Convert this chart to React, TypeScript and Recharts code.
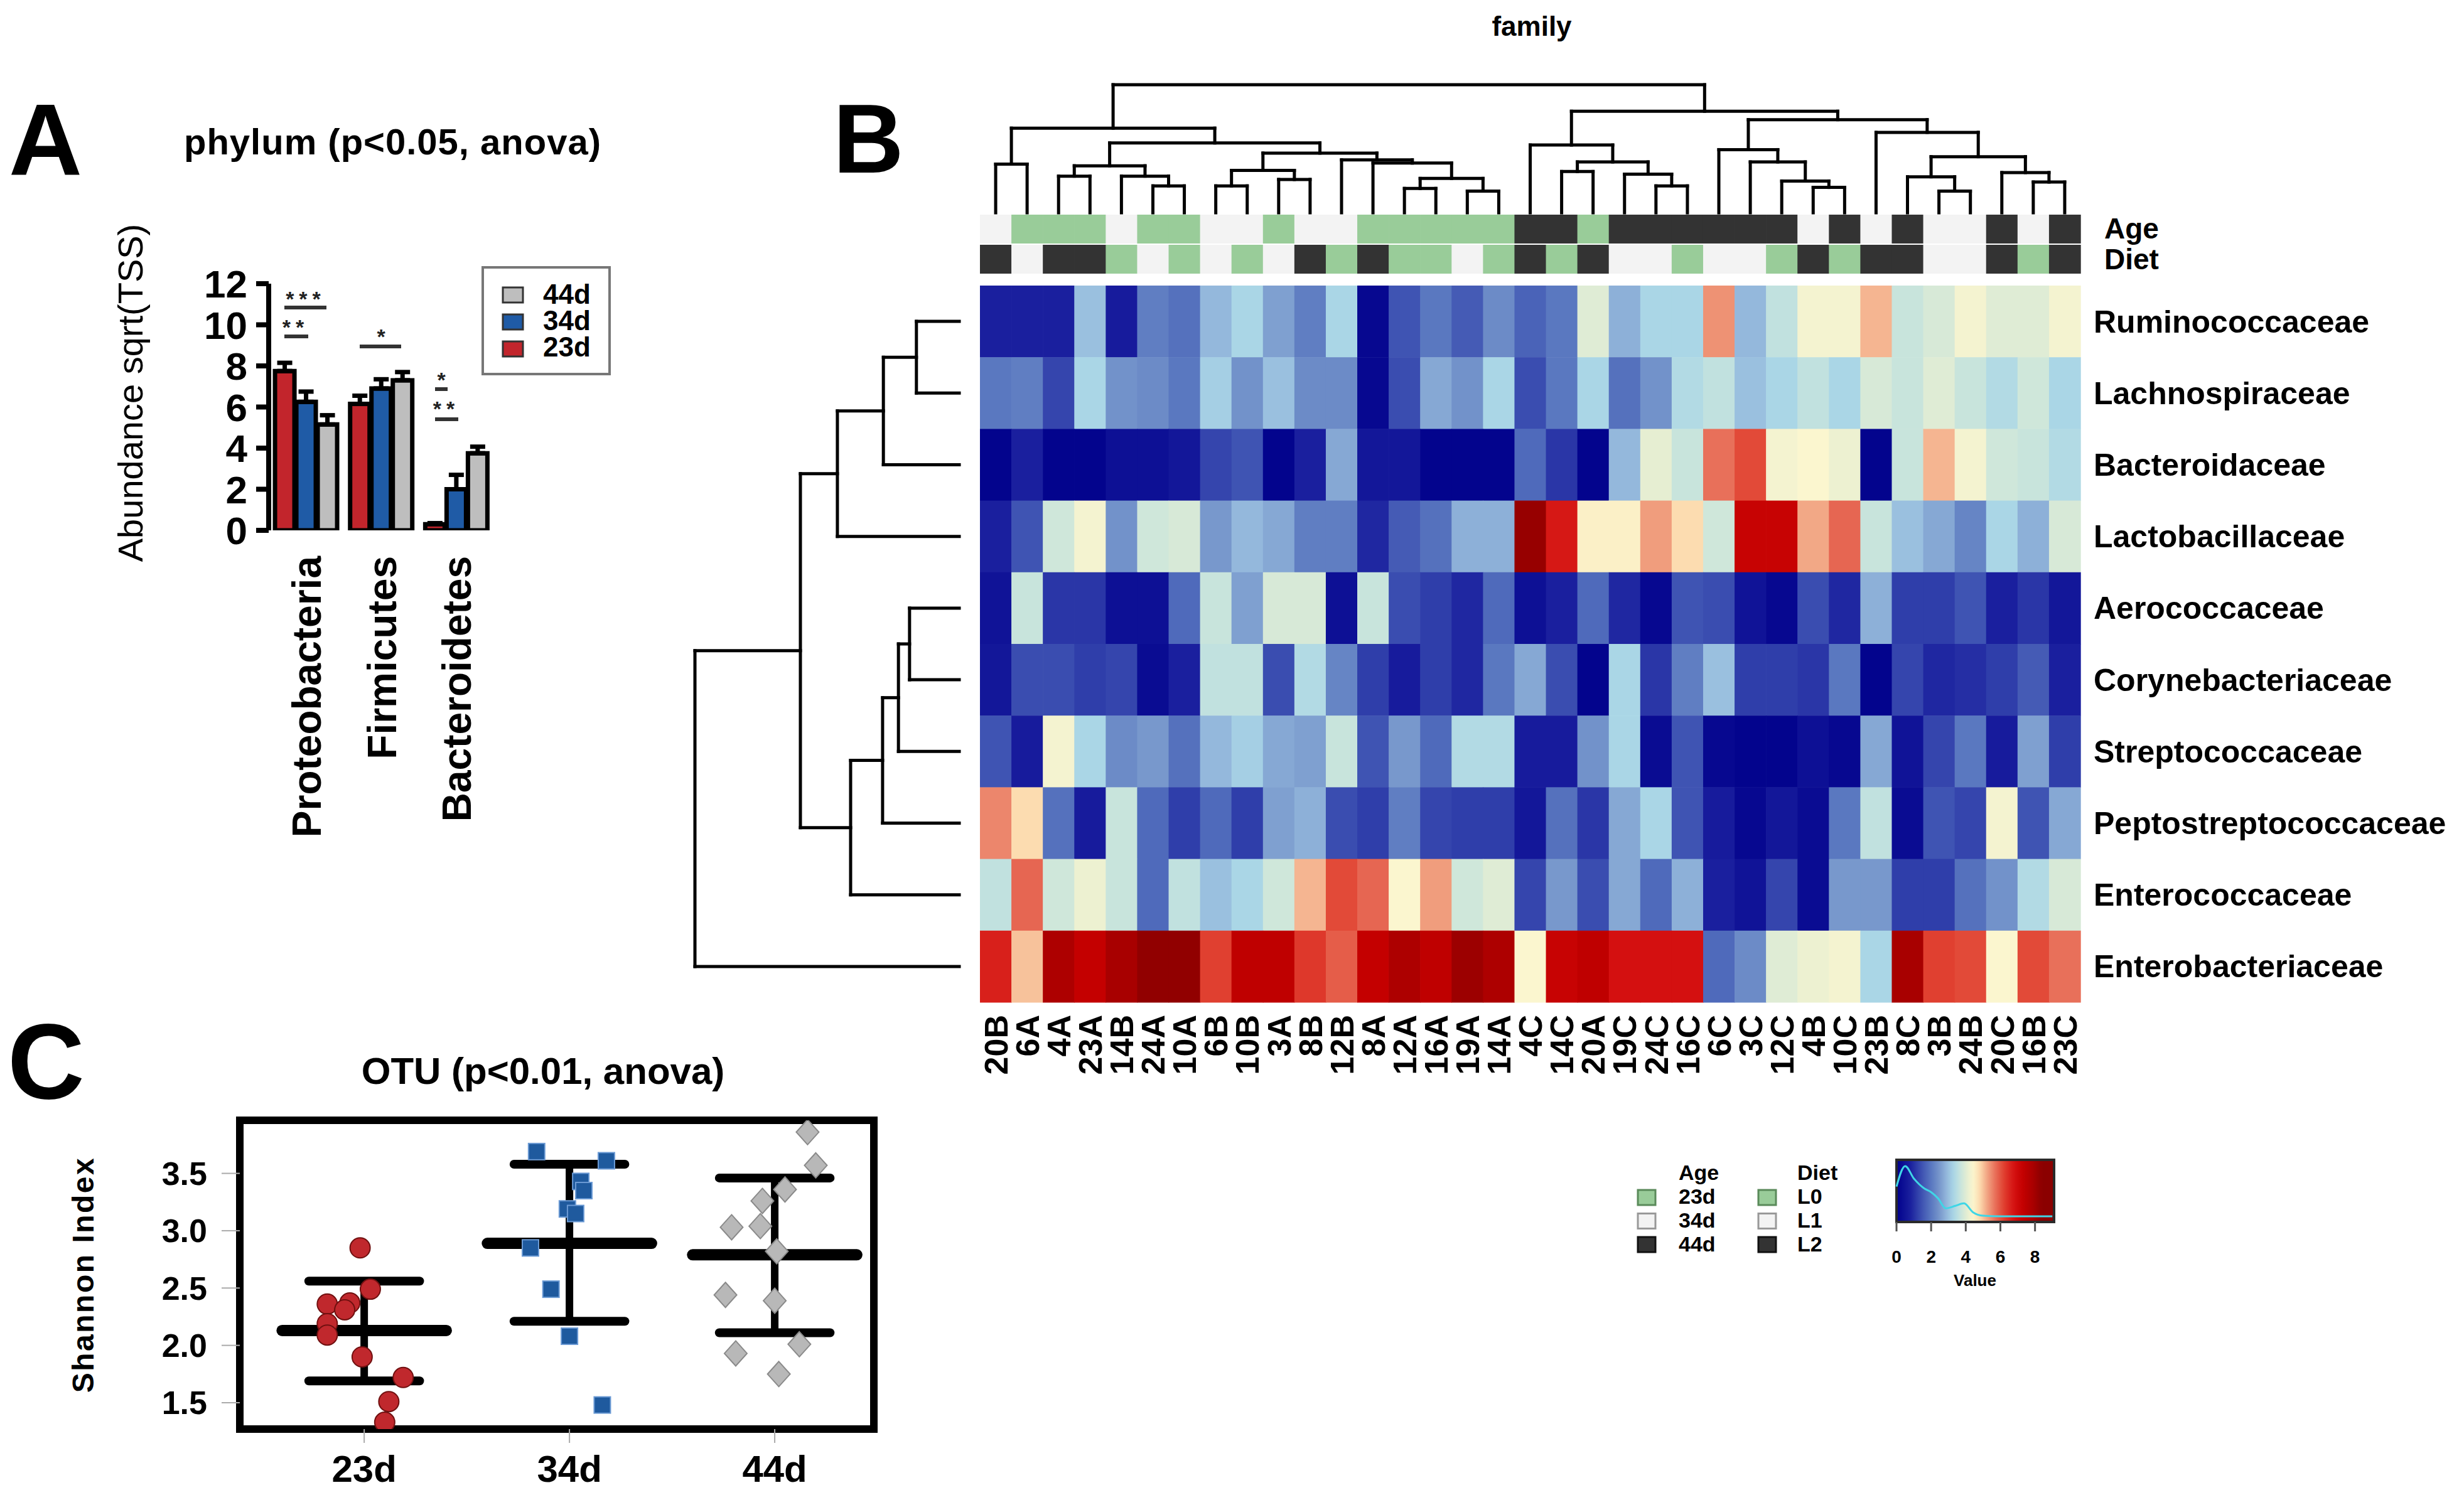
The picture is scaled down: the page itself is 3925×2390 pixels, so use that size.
import React from 'react';
import {
  BarChart, Bar, XAxis, YAxis, ErrorBar, ScatterChart, Scatter,
  ReferenceLine, ReferenceArea, LineChart, Line,
} from 'recharts';

if (typeof document !== 'undefined') {
  document.body.style.margin = '0';
  document.body.style.background = '#ffffff';
}

const W = 3925;
const H = 2390;
const FONT = '"Liberation Sans", Arial, Helvetica, sans-serif';

// ---------------- Panel A : phylum bars ----------------
const phyla = ['Proteobacteria', 'Firmicutes', 'Bacteroidetes'];
const abund23 = [7.75, 6.15, 0.3];
const abund34 = [6.25, 6.9, 2.0];
const abund44 = [5.15, 7.3, 3.75];
const err23 = [0.4, 0.4, 0.05];
const err34 = [0.5, 0.45, 0.7];
const err44 = [0.45, 0.4, 0.32];
const abundTicks = [0, 2, 4, 6, 8, 10, 12];
const ageGroups = ['23d', '34d', '44d'];

// ---------------- Panel C : Shannon index ----------------
const shan23x = [0.98, 1.03, 0.82, 0.93, 0.905, 0.82, 0.82, 0.99, 1.19, 1.12, 1.10];
const shan23y = [2.85, 2.49, 2.36, 2.37, 2.31, 2.19, 2.09, 1.90, 1.72, 1.51, 1.33];
const shan34x = [1.84, 2.18, 2.055, 2.07, 1.99, 2.03, 1.81, 1.91, 2.0, 2.16];
const shan34y = [3.69, 3.61, 3.43, 3.35, 3.19, 3.15, 2.85, 2.49, 2.08, 1.48];
const shan44x = [3.16, 3.2, 3.05, 2.94, 2.79, 2.93, 3.01, 2.76, 3.0, 3.12, 2.81, 3.02];
const shan44y = [3.86, 3.57, 3.36, 3.26, 3.03, 3.04, 2.82, 2.44, 2.39, 2.01, 1.93, 1.75];
const shanMean = [2.13, 2.89, 2.79];
const shanUpper = [2.56, 3.58, 3.46];
const shanLower = [1.69, 2.21, 2.11];
const shanTicks = [1.5, 2.0, 2.5, 3.0, 3.5];

// ---------------- Panel B : family heatmap ----------------
const families = [
  'Ruminococcaceae', 'Lachnospiraceae', 'Bacteroidaceae', 'Lactobacillaceae', 'Aerococcaceae',
  'Corynebacteriaceae', 'Streptococcaceae', 'Peptostreptococcaceae', 'Enterococcaceae', 'Enterobacteriaceae',
];
const samples = [
  '20B', '6A', '4A', '23A', '14B', '24A', '10A', '6B', '10B', '3A', '8B', '12B', '8A', '12A', '16A', '19A', '14A',
  '4C', '14C', '20A', '19C', '24C', '16C', '6C', '3C', '12C', '4B', '10C', '23B', '8C', '3B', '24B', '20C', '16B', '23C',
];
const sampleAge = [
  '34d', '23d', '23d', '23d', '34d', '23d', '23d', '34d', '34d', '23d', '34d', '34d', '23d', '23d', '23d', '23d', '23d',
  '44d', '44d', '23d', '44d', '44d', '44d', '44d', '44d', '44d', '34d', '44d', '34d', '44d', '34d', '34d', '44d', '34d', '44d',
];
const sampleDiet = [
  'L2', 'L1', 'L2', 'L2', 'L0', 'L1', 'L0', 'L1', 'L0', 'L1', 'L2', 'L0', 'L2', 'L0', 'L0', 'L1', 'L0',
  'L2', 'L0', 'L2', 'L1', 'L1', 'L0', 'L1', 'L1', 'L0', 'L2', 'L0', 'L2', 'L2', 'L1', 'L1', 'L2', 'L0', 'L2',
];
const ruminococcaceae = [0.8, 0.8, 0.8, 3.0, 0.7, 2.1, 1.9, 2.9, 3.3, 2.6, 2.1, 3.3, 0.2, 1.5, 2.0, 1.6, 2.3, 1.7, 2.0, 4.0, 2.8, 3.3, 3.3, 5.4, 2.9, 3.6, 4.3, 4.3, 5.1, 3.7, 3.9, 4.3, 4.0, 4.0, 4.3];
const lachnospiraceae = [2.0, 2.1, 1.3, 3.3, 2.4, 2.3, 2.0, 3.2, 2.4, 3.0, 2.3, 2.3, 0.2, 1.4, 2.7, 2.4, 3.3, 1.4, 2.0, 3.3, 1.9, 2.4, 3.4, 3.6, 3.0, 3.3, 3.6, 3.3, 3.9, 3.7, 4.0, 3.7, 3.4, 3.8, 3.3];
const bacteroidaceae = [0.1, 0.8, 0.1, 0.1, 0.4, 0.4, 0.6, 1.3, 1.5, 0.1, 0.8, 2.7, 0.6, 0.6, 0.1, 0.1, 0.1, 1.8, 1.1, 0.1, 2.9, 4.1, 3.7, 5.7, 6.1, 4.3, 4.4, 4.2, 0.1, 3.7, 5.1, 4.3, 3.8, 3.7, 3.4];
const lactobacillaceae = [0.8, 1.5, 3.8, 4.3, 2.4, 3.8, 3.9, 2.5, 2.9, 2.7, 2.1, 2.1, 0.9, 1.6, 1.9, 2.8, 2.8, 8.2, 6.7, 4.5, 4.5, 5.3, 4.8, 3.8, 7.2, 7.2, 5.2, 5.8, 3.7, 3.0, 2.7, 2.2, 3.3, 2.8, 3.9];
const aerococcaceae = [0.5, 3.7, 1.1, 1.1, 0.4, 0.4, 1.8, 3.7, 2.6, 3.9, 3.9, 0.4, 3.7, 1.4, 1.2, 0.9, 1.8, 0.4, 0.8, 1.8, 0.9, 0.2, 1.5, 1.4, 0.5, 0.2, 1.4, 0.9, 2.8, 1.2, 1.2, 1.5, 0.8, 1.1, 0.6];
const corynebacteriaceae = [0.6, 1.4, 1.4, 1.2, 1.3, 0.3, 0.8, 3.6, 3.6, 1.4, 3.4, 2.2, 1.2, 0.7, 1.2, 0.9, 2.0, 2.7, 1.4, 0.1, 3.3, 1.1, 2.1, 3.0, 1.2, 1.2, 1.1, 2.0, 0.1, 1.3, 0.9, 1.0, 1.2, 1.6, 0.8];
const streptococcaceae = [1.5, 0.7, 4.3, 3.3, 2.3, 2.5, 1.9, 2.9, 3.2, 2.7, 2.6, 3.7, 1.5, 2.5, 1.8, 3.4, 3.4, 0.7, 0.7, 2.4, 3.3, 0.3, 1.5, 0.2, 0.1, 0.1, 0.4, 0.2, 2.7, 0.5, 1.3, 2.0, 0.7, 2.6, 1.2];
const peptostreptococcaceae = [5.5, 4.8, 1.9, 0.7, 3.7, 1.8, 1.2, 1.8, 1.2, 2.6, 2.8, 1.4, 1.2, 2.1, 1.3, 1.2, 1.2, 0.6, 1.9, 1.1, 2.7, 3.3, 1.5, 0.7, 0.2, 0.6, 0.3, 2.0, 3.6, 0.3, 1.5, 1.3, 4.3, 1.5, 2.7];
const enterococcaceae = [3.6, 5.8, 3.8, 4.2, 3.7, 1.8, 3.6, 3.0, 3.3, 3.8, 5.1, 6.1, 5.8, 4.4, 5.3, 3.8, 4.0, 1.3, 2.5, 1.4, 2.7, 1.8, 2.8, 0.8, 0.5, 1.3, 0.3, 2.5, 2.5, 1.2, 1.2, 1.9, 2.4, 3.4, 3.9];
const enterobacteriaceae = [6.6, 5.0, 7.8, 7.3, 7.9, 8.3, 8.3, 6.2, 7.4, 7.4, 6.3, 5.9, 7.3, 7.8, 7.4, 8.1, 7.8, 4.4, 7.2, 7.4, 6.8, 6.8, 6.8, 1.8, 2.3, 4.0, 4.2, 4.3, 3.3, 7.9, 6.2, 6.1, 4.4, 6.1, 5.7];
const heatRows = [
  ruminococcaceae, lachnospiraceae, bacteroidaceae, lactobacillaceae, aerococcaceae,
  corynebacteriaceae, streptococcaceae, peptostreptococcaceae, enterococcaceae, enterobacteriaceae,
];

// dendrograms (hclust style: negative = leaf, positive = earlier merge)
const colMerges = [
  [-1, -2, 3.8], [-3, -4, 2.86], [-6, -7, 2.1], [-5, 3, 2.86], [2, 4, 3.67],
  [-8, -9, 2.1], [-10, -11, 2.6], [6, 7, 3.31], [-14, -15, 1.9], [-16, -17, 1.69],
  [9, 10, 2.68], [-13, 11, 3.88], [-12, 12, 4.13], [8, 13, 4.66], [5, 14, 5.45],
  [1, 15, 6.61], [-19, -20, 3.22], [-22, -23, 2.1], [-21, 18, 3.01], [17, 19, 3.97],
  [-18, 20, 5.29], [-27, -28, 1.98], [-26, 22, 2.48], [-25, 23, 3.97], [-24, 24, 4.93],
  [-31, -32, 1.69], [-30, 26, 2.81], [-34, -35, 2.4], [-33, 28, 3.14], [27, 29, 4.38],
  [-29, 30, 6.28], [25, 31, 7.27], [21, 32, 7.93], [16, 33, 10],
];
const rowMerges = [
  [-1, -2, 1.62], [1, -3, 2.87], [2, -4, 4.61], [-5, -6, 1.88], [4, -7, 2.3],
  [5, -8, 2.9], [6, -9, 4.11], [3, 7, 6.01], [8, -10, 10],
];

// colour key density trace
const keyDensityX = [0, 0.5, 1.0, 1.6, 2.0, 2.4, 2.85, 3.4, 3.9, 4.4, 5.0, 6.0, 7.0, 8.0, 9.0];
const keyDensityY = [0.57, 0.9, 0.7, 0.54, 0.48, 0.38, 0.22, 0.26, 0.3, 0.16, 0.1, 0.09, 0.09, 0.09, 0.09];
const keyTicks = [0, 2, 4, 6, 8];

// ---------------- styles ----------------
const RED = '#c2252c';
const BLUE = '#1f5ba6';
const GRAY = '#bebebe';
const GROUP_COLORS: Record<string, string> = { '23d': '#99cc99', '34d': '#f3f3f3', '44d': '#333333', L0: '#99cc99', L1: '#f3f3f3', L2: '#333333' };
const HEAT_STOPS: [number, string][] = [
  [0, '#00008b'], [0.8, '#1a1f9e'], [1.4, '#3a4db0'], [2.0, '#5a78c0'], [2.5, '#7898cc'],
  [2.9, '#94b8dc'], [3.3, '#aad6e6'], [3.7, '#c8e4dc'], [4.1, '#e6eed2'], [4.4, '#fbf6cf'],
  [4.8, '#fcdcb0'], [5.2, '#f2a886'], [5.7, '#e8705a'], [6.2, '#e04030'], [6.8, '#d41010'],
  [7.3, '#c40000'], [7.9, '#a80000'], [8.4, '#8b0000'],
];

function hexRgb(h: string) {
  return [parseInt(h.slice(1, 3), 16), parseInt(h.slice(3, 5), 16), parseInt(h.slice(5, 7), 16)];
}
function heatColor(v: number): string {
  const s = HEAT_STOPS;
  if (v <= s[0][0]) return s[0][1];
  for (let i = 1; i < s.length; i++) {
    if (v <= s[i][0]) {
      const t = (v - s[i - 1][0]) / (s[i][0] - s[i - 1][0]);
      const a = hexRgb(s[i - 1][1]);
      const b = hexRgb(s[i][1]);
      const c = a.map((x, k) => Math.round(x + (b[k] - x) * t));
      return `rgb(${c[0]},${c[1]},${c[2]})`;
    }
  }
  return s[s.length - 1][1];
}

function marginFor(px: number, py: number, pw: number, ph: number, ax: any = {}) {
  return {
    left: px - (ax.left || 0),
    top: py - (ax.top || 0),
    right: W - px - pw - (ax.right || 0),
    bottom: H - py - ph - (ax.bottom || 0),
  };
}

function dendroSegments(merges: number[][]) {
  const pos: number[] = [];
  const hgt: number[] = [];
  const segs: { p1: number; h1: number; p2: number; h2: number }[] = [];
  const get = (id: number) => (id < 0 ? { p: -id - 1 + 0.5, h: 0 } : { p: pos[id - 1], h: hgt[id - 1] });
  merges.forEach(([a, b, h], k) => {
    const A = get(a);
    const B = get(b);
    segs.push({ p1: A.p, h1: A.h, p2: A.p, h2: h });
    segs.push({ p1: B.p, h1: B.h, p2: B.p, h2: h });
    segs.push({ p1: A.p, h1: h, p2: B.p, h2: h });
    pos[k] = (A.p + B.p) / 2;
    hgt[k] = h;
  });
  return segs;
}

// ---------------- derived tables ----------------
const barData = phyla.map((p, i) => ({
  name: p, d23: abund23[i], d34: abund34[i], d44: abund44[i],
  e23: [0, err23[i]], e34: [0, err34[i]], e44: [0, err44[i]],
}));
const pts23 = shan23x.map((x, i) => ({ x, y: shan23y[i] }));
const pts34 = shan34x.map((x, i) => ({ x, y: shan34y[i] }));
const pts44 = shan44x.map((x, i) => ({ x, y: shan44y[i] }));

const NCOL = samples.length;
const NROW = families.length;
const HM = { x: 1561, y: 455, w: 1753, h: 1142 };
const CELL_W = HM.w / NCOL;
const CELL_H = HM.h / NROW;
const heatCells = heatRows.flatMap((row, r) => row.map((v, c) => ({ x: c + 0.5, y: r + 0.5, v })));
const annotCells = samples.flatMap((s, c) => [
  { x: c + 0.5, y: 0.5, g: sampleAge[c] },
  { x: c + 0.5, y: 1.5, g: sampleDiet[c] },
]);
const colCenters = samples.map((_, i) => i + 0.5);
const rowCenters = families.map((_, i) => i + 0.5);
const colSegs = dendroSegments(colMerges);
const rowSegs = dendroSegments(rowMerges);
const densityData = keyDensityX.map((x, i) => ({ x, y: keyDensityY[i] }));
const KEY_MAX = 9.1;

// ---------------- ticks & shapes ----------------
const PhylumTick = (props: any) => {
  const { x, y, payload } = props;
  return (
    <text x={x} y={y} transform={`rotate(-90 ${x} ${y})`} textAnchor="end" dy="0.36em"
      fontSize={64} fontWeight={700} fontFamily={FONT} fill="#000">{payload.value}</text>
  );
};
const ColTick = (props: any) => {
  const { x, y, payload } = props;
  return (
    <text x={x} y={y} transform={`rotate(-90 ${x} ${y})`} textAnchor="end" dy="0.36em"
      fontSize={52} fontWeight={700} fontFamily={FONT} fill="#000">{samples[Math.floor(payload.value)]}</text>
  );
};
const RowTick = (props: any) => {
  const { x, y, payload } = props;
  return (
    <text x={x} y={y} dy="0.35em" textAnchor="start" fontSize={50} fontWeight={700} fontFamily={FONT} fill="#000">
      {families[Math.floor(payload.value)]}
    </text>
  );
};
const HeatCell = (props: any) => {
  const { cx, cy, payload } = props;
  return <rect x={cx - CELL_W / 2} y={cy - CELL_H / 2} width={CELL_W + 0.7} height={CELL_H + 0.5} fill={heatColor(payload.v)} />;
};
const AnnotCell = (props: any) => {
  const { cx, cy, payload } = props;
  return <rect x={cx - CELL_W / 2} y={cy - 23} width={CELL_W + 0.7} height={46} fill={GROUP_COLORS[payload.g]} />;
};
const Empty = () => <g />;
const CircleShape = (p: any) => <circle cx={p.cx} cy={p.cy} r={16} fill="#c0282d" stroke="#701010" strokeWidth={2} />;
const SquareShape = (p: any) => <rect x={p.cx - 13} y={p.cy - 13} width={26} height={26} fill="#1f5a9e" stroke="#6b9ad4" strokeWidth={2} />;
const DiamondShape = (p: any) => (
  <polygon points={`${p.cx},${p.cy - 20} ${p.cx + 18},${p.cy} ${p.cx},${p.cy + 20} ${p.cx - 18},${p.cy}`}
    fill="#b8b8b8" stroke="#8a8a8a" strokeWidth={2} />
);

const abs: React.CSSProperties = { position: 'absolute', left: 0, top: 0 };
const boldTick = (size: number) => ({ fontSize: size, fontWeight: 700, fill: '#000', fontFamily: FONT });

export default function App() {
  const gradStops = Array.from({ length: 46 }, (_, i) => i / 45);
  return (
    <div style={{ position: 'relative', width: W, height: H, background: '#fff', overflow: 'hidden', fontFamily: FONT }}>
      <svg width={0} height={0} style={{ position: 'absolute' }}>
        <defs>
          <linearGradient id="keyGrad" x1="0" y1="0" x2="1" y2="0">
            {gradStops.map((o) => <stop key={o} offset={o} stopColor={heatColor(o * KEY_MAX)} />)}
          </linearGradient>
        </defs>
      </svg>

      {/* Panel A */}
      <div style={abs}>
        <BarChart width={W} height={H} data={barData} margin={marginFor(428, 452, 359, 393, { left: 200, bottom: 100 })}
          barCategoryGap="8.4%" barGap={3}>
          <XAxis dataKey="name" height={100} axisLine={false} tickLine={false} tickSize={0} tickMargin={41} interval={0} tick={<PhylumTick />} />
          <YAxis width={200} domain={[0, 12]} ticks={abundTicks} allowDataOverflow interval={0}
            axisLine={{ stroke: '#000', strokeWidth: 8 }} tickLine={{ stroke: '#000', strokeWidth: 8 }}
            tickSize={20} tickMargin={14} tick={boldTick(62)} />
          <Bar dataKey="d23" fill={RED} stroke="#000" strokeWidth={7} isAnimationActive={false}>
            <ErrorBar dataKey="e23" direction="y" width={12} strokeWidth={7} stroke="#000" />
          </Bar>
          <Bar dataKey="d34" fill={BLUE} stroke="#000" strokeWidth={7} isAnimationActive={false}>
            <ErrorBar dataKey="e34" direction="y" width={12} strokeWidth={7} stroke="#000" />
          </Bar>
          <Bar dataKey="d44" fill={GRAY} stroke="#000" strokeWidth={7} isAnimationActive={false}>
            <ErrorBar dataKey="e44" direction="y" width={12} strokeWidth={7} stroke="#000" />
          </Bar>
        </BarChart>
      </div>

      {/* Panel C */}
      <div style={abs}>
        <ScatterChart width={W} height={H} margin={marginFor(382, 1785, 1010, 492, { left: 250, bottom: 100 })}>
          <XAxis type="number" dataKey="x" domain={[0.394, 3.483]} ticks={[1, 2, 3]} interval={0} allowDataOverflow
            tickFormatter={(v: number) => ageGroups[v - 1]} height={100} axisLine={false}
            tickLine={{ stroke: '#aaa', strokeWidth: 2 }} tickSize={22} tickMargin={19} tick={boldTick(60)} />
          <YAxis type="number" dataKey="y" domain={[1.27, 3.963]} ticks={shanTicks} interval={0} allowDataOverflow
            tickFormatter={(v: number) => v.toFixed(1)} width={250} axisLine={false}
            tickLine={{ stroke: '#aaa', strokeWidth: 2 }} tickSize={29} tickMargin={23} tick={boldTick(52)} />
          <ReferenceArea x1={0.394} x2={3.483} y1={1.27} y2={3.963} fill="none" stroke="#000" strokeWidth={12} ifOverflow="visible" />
          {shanMean.map((m, i) => (
            <ReferenceLine key={`v${i}`} segment={[{ x: i + 1, y: shanLower[i] }, { x: i + 1, y: shanUpper[i] }]}
              stroke="#000" strokeWidth={12} ifOverflow="visible" />
          ))}
          {shanMean.map((m, i) => (
            <ReferenceLine key={`m${i}`} segment={[{ x: i + 0.6, y: m }, { x: i + 1.4, y: m }]}
              stroke="#000" strokeWidth={18} strokeLinecap="round" ifOverflow="visible" />
          ))}
          {shanUpper.map((u, i) => (
            <ReferenceLine key={`u${i}`} segment={[{ x: i + 0.73, y: u }, { x: i + 1.27, y: u }]}
              stroke="#000" strokeWidth={14} strokeLinecap="round" ifOverflow="visible" />
          ))}
          {shanLower.map((l, i) => (
            <ReferenceLine key={`l${i}`} segment={[{ x: i + 0.73, y: l }, { x: i + 1.27, y: l }]}
              stroke="#000" strokeWidth={14} strokeLinecap="round" ifOverflow="visible" />
          ))}
          <Scatter data={pts23} shape={CircleShape} isAnimationActive={false} />
          <Scatter data={pts34} shape={SquareShape} isAnimationActive={false} />
          <Scatter data={pts44} shape={DiamondShape} isAnimationActive={false} />
        </ScatterChart>
      </div>

      {/* Panel B : column dendrogram */}
      <div style={abs}>
        <ScatterChart width={W} height={H} margin={marginFor(HM.x, 135, HM.w, 204)}>
          <XAxis type="number" dataKey="x" domain={[0, NCOL]} hide />
          <YAxis type="number" dataKey="y" domain={[0, 10]} hide />
          {colSegs.map((s, i) => (
            <ReferenceLine key={i} segment={[{ x: s.p1, y: s.h1 }, { x: s.p2, y: s.h2 }]} stroke="#000" strokeWidth={5}
              strokeLinecap="square" ifOverflow="visible" />
          ))}
          <Scatter data={colCenters.map((x) => ({ x, y: 0 }))} shape={Empty} isAnimationActive={false} />
        </ScatterChart>
      </div>

      {/* Panel B : row dendrogram */}
      <div style={abs}>
        <ScatterChart width={W} height={H} margin={marginFor(1107, HM.y, 421, HM.h)}>
          <XAxis type="number" dataKey="x" domain={[0, 10]} reversed hide />
          <YAxis type="number" dataKey="y" domain={[0, NROW]} reversed hide />
          {rowSegs.map((s, i) => (
            <ReferenceLine key={i} segment={[{ x: s.h1, y: s.p1 }, { x: s.h2, y: s.p2 }]} stroke="#000" strokeWidth={5}
              strokeLinecap="square" ifOverflow="visible" />
          ))}
          <Scatter data={rowCenters.map((y) => ({ x: 0, y }))} shape={Empty} isAnimationActive={false} />
        </ScatterChart>
      </div>

      {/* Panel B : Age / Diet annotation */}
      <div style={abs}>
        <ScatterChart width={W} height={H} margin={marginFor(HM.x, 341, HM.w, 96)}>
          <XAxis type="number" dataKey="x" domain={[0, NCOL]} hide />
          <YAxis type="number" dataKey="y" domain={[0, 2]} reversed hide />
          <Scatter data={annotCells} shape={AnnotCell} isAnimationActive={false} />
        </ScatterChart>
      </div>

      {/* Panel B : heatmap */}
      <div style={abs}>
        <ScatterChart width={W} height={H} margin={marginFor(HM.x, HM.y, HM.w, HM.h, { right: 600, bottom: 200 })}>
          <XAxis type="number" dataKey="x" domain={[0, NCOL]} ticks={colCenters} interval={0} height={200}
            axisLine={false} tickLine={false} tickSize={0} tickMargin={20} tick={<ColTick />} />
          <YAxis type="number" dataKey="y" domain={[0, NROW]} reversed orientation="right" ticks={rowCenters} interval={0}
            width={600} axisLine={false} tickLine={false} tickSize={0} tickMargin={21} tick={<RowTick />} />
          <Scatter data={heatCells} shape={HeatCell} isAnimationActive={false} />
          {rowCenters.slice(1).map((c, i) => (
            <ReferenceLine key={i} y={i + 1} stroke="#ffffff" strokeOpacity={0.5} strokeWidth={3} />
          ))}
        </ScatterChart>
      </div>

      {/* Colour key */}
      <div style={abs}>
        <LineChart width={W} height={H} data={densityData} margin={marginFor(3021, 1848, 251, 99, { bottom: 100 })}>
          <XAxis type="number" dataKey="x" domain={[0, KEY_MAX]} ticks={keyTicks} interval={0} height={100}
            axisLine={false} tickLine={{ stroke: '#555', strokeWidth: 3 }} tickSize={15} tickMargin={30} tick={boldTick(28)} />
          <YAxis type="number" domain={[0, 1]} hide />
          <ReferenceArea x1={0} x2={KEY_MAX} y1={0} y2={1} fill="url(#keyGrad)" fillOpacity={1} stroke="#2a2a2a" strokeWidth={4} ifOverflow="visible" />
          <Line dataKey="y" type="monotone" stroke="#3fd6e6" strokeWidth={3} dot={false} isAnimationActive={false} />
        </LineChart>
      </div>

      {/* Text and legend overlays */}
      <svg width={W} height={H} style={{ ...abs, pointerEvents: 'none' }} fontFamily={FONT}>
        {/* Panel A */}
        <text x={14} y={278} fontSize={162} fontWeight={700}>A</text>
        <text x={293} y={246} fontSize={58} fontWeight={700} letterSpacing={1}>phylum (p&lt;0.05, anova)</text>
        <text x={207} y={626} fontSize={56} textAnchor="middle" dy="0.35em" transform="rotate(-90 207 626)">Abundance sqrt(TSS)</text>
        <g fill="#222" fontSize={34} fontWeight={700} textAnchor="middle">
          <text x={487} y={488} letterSpacing={8}>***</text>
          <text x={471} y={533} letterSpacing={8}>**</text>
          <text x={607} y={548}>*</text>
          <text x={703} y={617}>*</text>
          <text x={711} y={663} letterSpacing={8}>**</text>
        </g>
        <g stroke="#333" strokeWidth={6}>
          <line x1={453} x2={520} y1={490} y2={490} />
          <line x1={453} x2={491} y1={536} y2={536} />
          <line x1={573} x2={639} y1={552} y2={552} />
          <line x1={693} x2={713} y1={620} y2={620} />
          <line x1={693} x2={730} y1={668} y2={668} />
        </g>
        <rect x={769} y={426} width={202} height={170} fill="none" stroke="#777" strokeWidth={4} />
        {[GRAY, BLUE, RED].map((c, i) => (
          <rect key={c} x={801} y={458 + i * 43} width={32} height={24} fill={c} stroke="#333" strokeWidth={3} />
        ))}
        {['44d', '34d', '23d'].map((t, i) => (
          <text key={t} x={865} y={484 + i * 42} fontSize={44} fontWeight={700}>{t}</text>
        ))}

        {/* Panel C */}
        <text x={12} y={1750} fontSize={170} fontWeight={700}>C</text>
        <text x={865} y={1727} fontSize={60} fontWeight={700} textAnchor="middle">OTU (p&lt;0.01, anova)</text>
        <text x={132} y={2031} fontSize={48} fontWeight={700} textAnchor="middle" dy="0.35em" letterSpacing={2.5}
          transform="rotate(-90 132 2031)">Shannon Index</text>

        {/* Panel B */}
        <text x={1327} y={275} fontSize={156} fontWeight={700}>B</text>
        <text x={2440} y={57} fontSize={44} fontWeight={700} textAnchor="middle">family</text>
        <text x={3352} y={380} fontSize={46} fontWeight={700}>Age</text>
        <text x={3352} y={429} fontSize={46} fontWeight={700}>Diet</text>

        {/* heatmap legends */}
        <text x={2674} y={1880} fontSize={34} fontWeight={700}>Age</text>
        <text x={2863} y={1880} fontSize={34} fontWeight={700}>Diet</text>
        {ageGroups.map((g, i) => (
          <g key={g}>
            <rect x={2609} y={1896 + i * 37.5} width={28} height={24} fill={GROUP_COLORS[g]} stroke={i === 0 ? '#5a8a5a' : i === 1 ? '#999' : '#111'} strokeWidth={3} />
            <text x={2674} y={1918 + i * 38} fontSize={34} fontWeight={700}>{g}</text>
          </g>
        ))}
        {['L0', 'L1', 'L2'].map((g, i) => (
          <g key={g}>
            <rect x={2801} y={1896 + i * 37.5} width={28} height={24} fill={GROUP_COLORS[g]} stroke={i === 0 ? '#5a8a5a' : i === 1 ? '#999' : '#111'} strokeWidth={3} />
            <text x={2863} y={1918 + i * 38} fontSize={34} fontWeight={700}>{g}</text>
          </g>
        ))}
        <text x={3146} y={2049} fontSize={26} fontWeight={700} textAnchor="middle">Value</text>
      </svg>
    </div>
  );
}
